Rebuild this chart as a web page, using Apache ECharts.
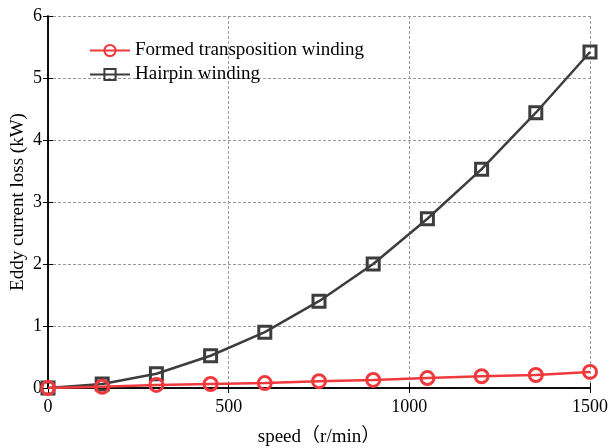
<!DOCTYPE html>
<html>
<head>
<meta charset="utf-8">
<script src="https://cdn.jsdelivr.net/npm/echarts@6/dist/echarts.min.js"></script>
<style>
  html, body { margin: 0; padding: 0; background: #fff; }
  #chart { width: 609px; height: 448px; }
</style>
</head>
<body>
<div id="chart"></div>
<script>
// speed in r/min
var speed = [0, 150, 300, 450, 600, 750, 900, 1050, 1200, 1350, 1500];
// eddy current loss in kW
var formedLoss = [0, 0.02, 0.05, 0.065, 0.08, 0.11, 0.13, 0.16, 0.19, 0.21, 0.26];
var hairpinLoss = [0, 0.065, 0.23, 0.52, 0.90, 1.40, 2.00, 2.73, 3.53, 4.44, 5.42];

var font = '"Liberation Serif", "Times New Roman", "Noto Sans CJK SC", serif';

function pairs(xs, ys) {
    return xs.map(function (x, i) { return [x, ys[i]]; });
}

var myChart = echarts.init(document.getElementById('chart'));
var axisLine = { show: true, lineStyle: { color: '#000', width: 1.5 } };
var tick = { inside: true, length: 5, lineStyle: { color: '#000' } };
var dash = { show: true, lineStyle: { color: '#999', type: [3, 2], width: 1 } };
var option = {
    animation: false,
    grid: { left: 48, right: 19, top: 16, bottom: 60, containLabel: false, outerBoundsMode: 'none' },
    legend: {
        data: ['Formed transposition winding', 'Hairpin winding'],
        orient: 'vertical',
        left: 84,
        top: 36,
        itemWidth: 40,
        itemHeight: 14,
        itemGap: 5,
        textStyle: { fontFamily: font, fontSize: 19, color: '#000' }
    },
    xAxis: [{
        type: 'value',
        min: 0, max: 1500, interval: 500,
        name: 'speed（r/min）',
        nameLocation: 'middle',
        nameGap: 40,
        nameTextStyle: { fontFamily: font, fontSize: 19, color: '#000' },
        axisLine: axisLine,
        axisTick: tick,
        axisLabel: { fontFamily: font, fontSize: 18, color: '#000', margin: 10, formatter: function (v) { return String(v); } },
        splitLine: dash
    }, {
        type: 'value',
        position: 'top',
        min: 0, max: 1500, interval: 500,
        axisLine: axisLine,
        axisTick: tick,
        axisLabel: { show: false },
        splitLine: { show: false }
    }],
    yAxis: [{
        type: 'value',
        min: 0, max: 6, interval: 1,
        name: 'Eddy current loss (kW)',
        nameLocation: 'middle',
        nameGap: 20,
        nameMoveOverlap: false,
        nameTextStyle: { fontFamily: font, fontSize: 19, color: '#000' },
        axisLine: axisLine,
        axisTick: tick,
        axisLabel: { fontFamily: font, fontSize: 18, color: '#000', margin: 6 },
        splitLine: dash
    }, {
        type: 'value',
        position: 'right',
        min: 0, max: 6, interval: 1,
        axisLine: axisLine,
        axisTick: tick,
        axisLabel: { show: false },
        splitLine: { show: false }
    }],
    series: [{
        name: 'Hairpin winding',
        type: 'line',
        data: pairs(speed, hairpinLoss),
        symbol: 'rect',
        symbolSize: 12,
        lineStyle: { color: '#3d3d3d', width: 2.5 },
        itemStyle: { color: 'rgba(255,255,255,0)', borderColor: '#3d3d3d', borderWidth: 3 },
        z: 2
    }, {
        name: 'Formed transposition winding',
        type: 'line',
        data: pairs(speed, formedLoss),
        symbol: 'circle',
        symbolSize: 13,
        lineStyle: { color: '#f0393d', width: 2.5 },
        itemStyle: { color: 'rgba(255,255,255,0)', borderColor: '#f0393d', borderWidth: 3 },
        z: 3
    }]
};
myChart.setOption(option);
</script>
</body>
</html>
